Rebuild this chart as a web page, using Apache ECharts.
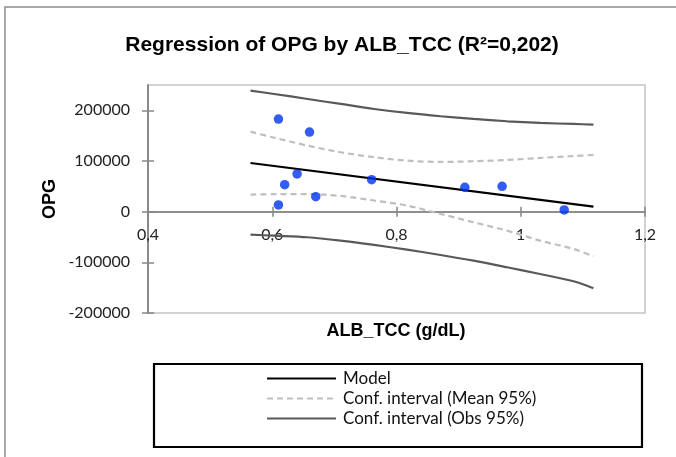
<!DOCTYPE html>
<html>
<head>
<meta charset="utf-8">
<script src="https://cdn.jsdelivr.net/npm/echarts@6/dist/echarts.min.js"></script>
<style>
html,body{margin:0;padding:0;background:#fff;}
#chart{width:676px;height:457px;}
</style>
</head>
<body>
<div id="chart"></div>
<script>
// Observations
const obsX = [0.61, 0.66, 0.64, 0.62, 0.67, 0.61, 0.76, 0.91, 0.97, 1.07];
const obsY = [182800, 157200, 74400, 53300, 29600, 13200, 63100, 48100, 50100, 3400];

// Model line
const modelX = [0.565, 1.117];
const modelY = [96000, 9900];

// Confidence bands (read along x)
const bandX = [0.565, 0.603, 0.657, 0.710, 0.764, 0.817, 0.871, 0.924, 0.978, 1.031, 1.085, 1.117];
const meanUpper = [157900, 146000, 130300, 117200, 107400, 100700, 98100, 99500, 102000, 106000, 109900, 111900];
const meanLower = [33800, 34500, 34500, 31000, 22000, 12000, -4500, -20900, -37500, -57200, -73600, -88000];
const obsUpper = [238800, 232300, 222400, 212600, 202700, 194800, 188300, 183000, 178400, 175100, 173100, 171700];
const obsLower = [-45400, -47400, -50500, -57200, -65700, -75000, -85500, -96700, -109700, -123000, -137400, -151000];

// Axis ticks
const xTicks = [0.4, 0.6, 0.8, 1.0, 1.2];
const yTicks = [-200000, -100000, 0, 100000, 200000];
const yMin = -200000, yMax = 250000, yStep = 100000;
const xMin = 0.4, xMax = 1.2, xStep = 0.2;

const titleText = 'Regression of OPG by ALB_TCC (R\u00B2=0,202)';
const xName = 'ALB_TCC (g/dL)';
const yName = 'OPG';
const nameModel = 'Model';
const nameMean = 'Conf. interval (Mean 95%)';
const nameObs = 'Conf. interval (Obs 95%)';

const zip = (a, b) => a.map((v, i) => [v, b[i]]);
const fmtX = v => String(Math.round(v * 10) / 10).replace('.', ',');

const labelFont = { fontFamily: 'Lato', fontSize: 16, color: '#222' };
const axisGray = '#868686';

// plot frame
const gL = 148, gR = 31, gT = 85, gB = 144, H = 457;
const plotH = H - gT - gB;
const zeroY = gT + plotH * (yMax - 0) / (yMax - yMin);

const chart = echarts.init(document.getElementById('chart'), null, { renderer: 'canvas' });
chart.setOption({
  animation: false,
  backgroundColor: '#fff',
  grid: [
    { left: gL, right: gR, top: gT, bottom: gB, show: true, borderColor: '#c4c4c4', borderWidth: 1.5, containLabel: false },
    { left: gL, right: gR, top: gT, bottom: H - zeroY, show: false, containLabel: false }
  ],
  xAxis: [{
    gridIndex: 0, type: 'value', min: xMin, max: xMax, interval: xStep,
    axisLine: { show: false }, axisTick: { show: false }, axisLabel: { show: false }, splitLine: { show: false }
  }, {
    gridIndex: 1, type: 'value', min: xMin, max: xMax, interval: xStep, position: 'bottom',
    axisLine: { show: true, onZero: false, lineStyle: { color: axisGray, width: 1.5 } },
    axisTick: { show: true, length: 5, lineStyle: { color: axisGray, width: 1.5 }, customValues: xTicks },
    axisLabel: Object.assign({ margin: 15, formatter: fmtX, customValues: xTicks }, labelFont),
    splitLine: { show: false }
  }, {
    gridIndex: 1, type: 'value', min: xMin, max: xMax, interval: xStep, position: 'bottom',
    axisLine: { show: true, onZero: false, lineStyle: { color: axisGray, width: 1.5 } },
    axisTick: { show: true, inside: true, length: 5, lineStyle: { color: axisGray, width: 1.5 }, customValues: xTicks },
    axisLabel: { show: false },
    splitLine: { show: false }
  }],
  yAxis: [{
    gridIndex: 0, type: 'value', min: yMin, max: yMax, interval: yStep,
    axisLine: { show: true, onZero: false, lineStyle: { color: axisGray, width: 1.5 } },
    axisTick: { show: true, length: 6, lineStyle: { color: axisGray, width: 1.5 }, customValues: yTicks },
    axisLabel: Object.assign({ margin: 18, formatter: v => String(v), customValues: yTicks }, labelFont),
    splitLine: { show: false }
  }, {
    gridIndex: 0, type: 'value', min: yMin, max: yMax, interval: yStep, position: 'left',
    axisLine: { show: true, onZero: false, lineStyle: { color: axisGray, width: 1.5 } },
    axisTick: { show: true, inside: true, length: 6, lineStyle: { color: axisGray, width: 1.5 }, customValues: yTicks },
    axisLabel: { show: false },
    splitLine: { show: false }
  }, {
    gridIndex: 1, type: 'value', min: 0, max: yMax, show: false
  }],
  legend: {
    data: [nameModel, nameMean, nameObs],
    orient: 'vertical', left: 266, top: 370, padding: 0,
    itemWidth: 69, itemHeight: 14, itemGap: 3,
    selectedMode: false,
    itemStyle: { opacity: 0 },
    textStyle: { fontFamily: 'Lato', fontSize: 17, color: '#111', lineHeight: 17, padding: [0, 0, 0, 2] }
  },
  graphic: [
    { type: 'rect', shape: { x: 5, y: 7, width: 700, height: 500 }, style: { fill: 'none', stroke: '#8c8c8c', lineWidth: 1.5 }, silent: true, z: -10 },
    { type: 'rect', shape: { x: 154, y: 364, width: 488, height: 83 }, style: { fill: 'none', stroke: '#000', lineWidth: 2.2 }, silent: true },
    { type: 'text', x: 342, y: 45, style: { text: titleText, fontFamily: 'Liberation Sans', fontWeight: 'bold', fontSize: 21, fill: '#000', textAlign: 'center', textVerticalAlign: 'middle' } },
    { type: 'text', x: 396, y: 331, style: { text: xName, fontFamily: 'Liberation Sans', fontWeight: 'bold', fontSize: 18, fill: '#000', textAlign: 'center', textVerticalAlign: 'middle' } },
    { type: 'text', x: 50, y: 199, rotation: Math.PI / 2, style: { text: yName, fontFamily: 'Liberation Sans', fontWeight: 'bold', fontSize: 18, fill: '#000', textAlign: 'center', textVerticalAlign: 'middle' } }
  ],
  series: [
    { name: nameObs, type: 'line', data: zip(bandX, obsUpper), symbol: 'none', smooth: 0.3, lineStyle: { color: '#595959', width: 2.2 }, itemStyle: { color: '#595959' }, z: 2 },
    { name: nameObs, type: 'line', data: zip(bandX, obsLower), symbol: 'none', smooth: 0.3, lineStyle: { color: '#595959', width: 2.2 }, itemStyle: { color: '#595959' }, z: 2 },
    { name: nameMean, type: 'line', data: zip(bandX, meanUpper), symbol: 'none', smooth: 0.3, lineStyle: { color: '#bfbfbf', width: 2.2, type: [6, 4] }, itemStyle: { color: '#bfbfbf' }, z: 2 },
    { name: nameMean, type: 'line', data: zip(bandX, meanLower), symbol: 'none', smooth: 0.3, lineStyle: { color: '#bfbfbf', width: 2.2, type: [6, 4] }, itemStyle: { color: '#bfbfbf' }, z: 2 },
    { name: nameModel, type: 'line', data: zip(modelX, modelY), symbol: 'none', lineStyle: { color: '#000', width: 2.2 }, itemStyle: { color: '#000' }, z: 3 },
    { name: 'Obs', type: 'scatter', data: zip(obsX, obsY), symbol: 'circle', symbolSize: 9.5, itemStyle: { color: '#0033ee' }, z: 5 }
  ]
});
</script>
</body>
</html>
